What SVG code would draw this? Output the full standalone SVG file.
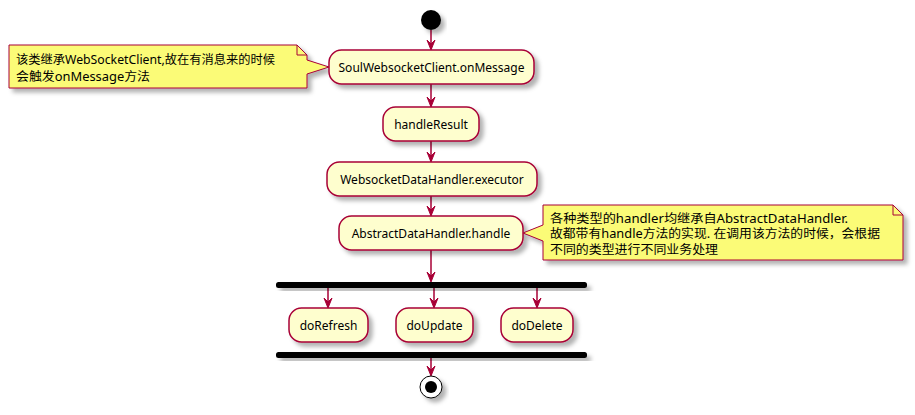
<svg xmlns="http://www.w3.org/2000/svg" width="915" height="415" viewBox="0 0 915 415">
<defs>
<filter id="sh" x="-20%" y="-20%" width="150%" height="170%">
<feDropShadow dx="4" dy="4" stdDeviation="2" flood-color="#000" flood-opacity="0.3"/>
</filter>
</defs>
<style>
.act{fill:#FEFECE;stroke:#A80036;stroke-width:1.5;filter:url(#sh)}
.note{fill:#FBFB77;stroke:#A80036;stroke-width:1;filter:url(#sh)}
.fold{fill:none;stroke:#A80036;stroke-width:1}
.t{font-family:"Noto Sans","Noto Sans CJK SC",sans-serif;font-size:12px;fill:#000}
.c{text-anchor:middle}
.ln{stroke:#A80036;stroke-width:1.5;fill:none}
.hd{fill:#A80036;stroke:#A80036;stroke-width:1}
.bar{fill:#000;filter:url(#sh)}
</style>
<rect width="915" height="415" fill="#fff"/>
<g id="connectors">
<line class="ln" x1="431" y1="30" x2="431" y2="49"/>
<polygon class="hd" points="427,40 431,50 435,40 431,44"/>
<line class="ln" x1="431" y1="84" x2="431" y2="106"/>
<polygon class="hd" points="427,97 431,107 435,97 431,101"/>
<line class="ln" x1="431" y1="141" x2="431" y2="161"/>
<polygon class="hd" points="427,152 431,162 435,152 431,156"/>
<line class="ln" x1="431" y1="196" x2="431" y2="215"/>
<polygon class="hd" points="427,206 431,216 435,206 431,210"/>
<line class="ln" x1="431" y1="250" x2="431" y2="281"/>
<polygon class="hd" points="427,272 431,282 435,272 431,276"/>
<line class="ln" x1="328" y1="288" x2="328" y2="307"/>
<polygon class="hd" points="324,298 328,308 332,298 328,302"/>
<line class="ln" x1="434" y1="288" x2="434" y2="307"/>
<polygon class="hd" points="430,298 434,308 438,298 434,302"/>
<line class="ln" x1="537" y1="288" x2="537" y2="307"/>
<polygon class="hd" points="533,298 537,308 541,298 537,302"/>
<line class="ln" x1="431" y1="358" x2="431" y2="375"/>
<polygon class="hd" points="427,366 431,376 435,366 431,370"/>
</g>
<g id="start"><circle cx="431" cy="20" r="10" fill="#000" filter="url(#sh)"/></g>
<g id="note1">
<path class="note" d="M9,45 L297,45 L307,55 L307,60 L329,67 L307,74 L307,88 L9,88 Z"/>
<path class="fold" d="M297,45 L297,55 L307,55"/>
<text class="t" x="16" y="64" textLength="259" lengthAdjust="spacingAndGlyphs">该类继承WebSocketClient,故在有消息来的时候</text>
<text class="t" x="16" y="81" textLength="134" lengthAdjust="spacingAndGlyphs">会触发onMessage方法</text>
</g>
<g id="onMessage">
<rect class="act" x="329" y="50" width="205" height="34" rx="12.5"/>
<text class="t c" x="431.5" y="71.5">SoulWebsocketClient.onMessage</text>
</g>
<g id="handleResult">
<rect class="act" x="383" y="107" width="96" height="34" rx="12.5"/>
<text class="t c" x="431" y="128.5">handleResult</text>
</g>
<g id="executor">
<rect class="act" x="327" y="162" width="210" height="34" rx="12.5"/>
<text class="t c" x="432" y="183.5">WebsocketDataHandler.executor</text>
</g>
<g id="handle">
<rect class="act" x="339" y="216" width="184" height="34" rx="12.5"/>
<text class="t c" x="431" y="237.5">AbstractDataHandler.handle</text>
</g>
<g id="note2">
<path class="note" d="M543,205 L893,205 L903,215 L903,260 L543,260 L543,241 L523,233 L543,225 Z"/>
<path class="fold" d="M893,205 L893,215 L903,215"/>
<text class="t" x="550" y="222.5" textLength="298" lengthAdjust="spacingAndGlyphs">各种类型的handler均继承自AbstractDataHandler.</text>
<text class="t" x="550" y="238" textLength="330" lengthAdjust="spacingAndGlyphs">故都带有handle方法的实现. 在调用该方法的时候，会根据</text>
<text class="t" x="550" y="253.5" textLength="168" lengthAdjust="spacingAndGlyphs">不同的类型进行不同业务处理</text>
</g>
<g id="fork"><rect class="bar" x="276" y="282" width="311" height="6" rx="2.5"/></g>
<g id="doRefresh">
<rect class="act" x="289" y="308" width="79" height="34" rx="12.5"/>
<text class="t c" x="328.5" y="329.5">doRefresh</text>
</g>
<g id="doUpdate">
<rect class="act" x="396" y="308" width="77" height="34" rx="12.5"/>
<text class="t c" x="434.5" y="329.5">doUpdate</text>
</g>
<g id="doDelete">
<rect class="act" x="501" y="308" width="72" height="34" rx="12.5"/>
<text class="t c" x="537" y="329.5">doDelete</text>
</g>
<g id="join"><rect class="bar" x="276" y="352" width="311" height="6" rx="2.5"/></g>
<g id="end">
<circle cx="431" cy="387" r="11" fill="#fff" stroke="#000" stroke-width="1" filter="url(#sh)"/>
<circle cx="431" cy="387" r="6" fill="#000"/>
</g>
</svg>
